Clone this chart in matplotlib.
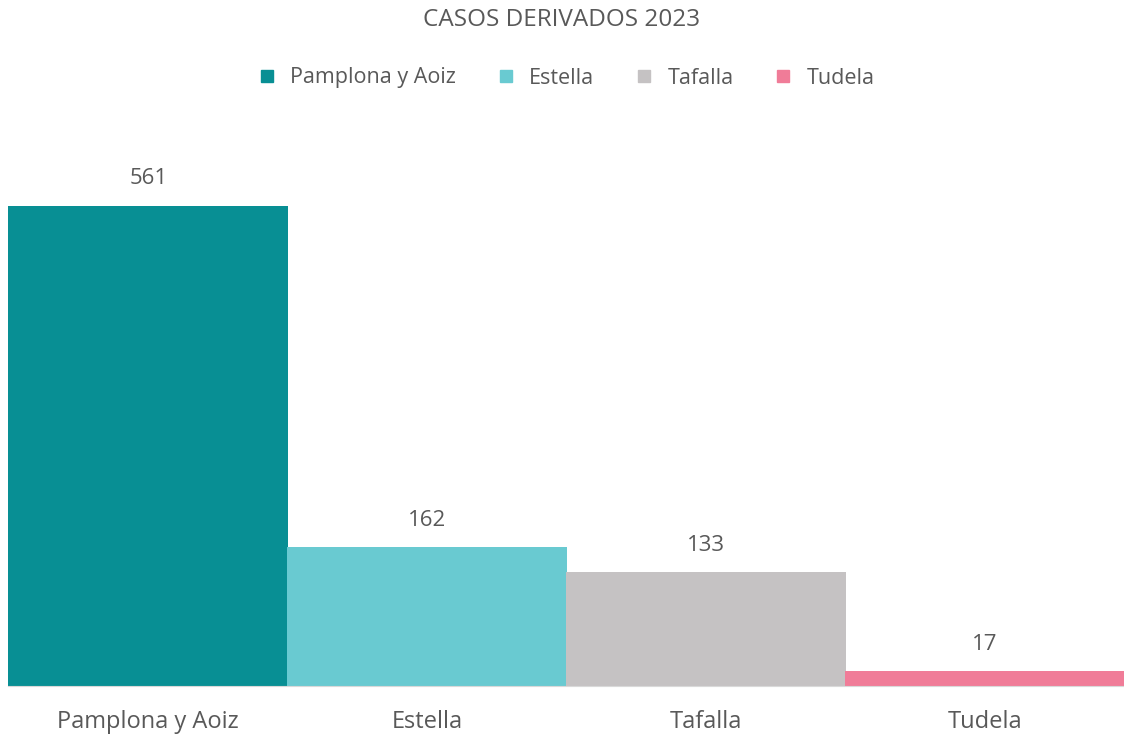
import matplotlib.pyplot as plt
from matplotlib.lines import Line2D

# data
zonas = ["Pamplona y Aoiz", "Estella", "Tafalla", "Tudela"]
casos = [561, 162, 133, 17]
colores = ["#088F94", "#69CAD1", "#C5C2C3", "#F07C98"]

txt = "#595959"
plt.rcParams['font.family'] = ['Open Sans', 'DejaVu Sans']

fig = plt.figure(figsize=(11.24, 7.35), dpi=100)
H = 735
ax = fig.add_axes([8 / 1124, (H - 686) / H, 1116 / 1124, 556 / H])

x = list(range(len(zonas)))
ax.bar(x, casos, width=1.005, color=colores)
ax.set_xlim(-0.503, 3.5)
ax.set_ylim(0, 561 * 556 / 480)

for xi, v in zip(x, casos):
    ax.annotate(str(v), (xi, v), xytext=(0, 12), textcoords="offset points",
                ha="center", va="bottom", fontsize=16, color=txt)

ax.set_xticks(x)
ax.set_xticklabels(zonas, fontsize=17, color=txt)
ax.tick_params(axis="x", length=0, pad=17)
ax.set_yticks([])
for s in ["top", "left", "right"]:
    ax.spines[s].set_visible(False)
ax.spines["bottom"].set_color("#D9D9D9")

fig.text(0.5, 1 - 20 / H, "CASOS DERIVADOS 2023", ha="center", va="center",
         fontsize=17.5, color=txt)

handles = [Line2D([], [], marker="s", linestyle="none", markersize=8.5,
                  markerfacecolor=c, markeredgecolor=c) for c in colores]
fig.legend(handles, zonas, loc="center", bbox_to_anchor=(0.504, 1 - 78 / H),
           ncol=4, frameon=False, fontsize=15.5, labelcolor=txt,
           handlelength=0.8, handletextpad=0.7, columnspacing=1.9)

fig.savefig("out.png", dpi=100)
